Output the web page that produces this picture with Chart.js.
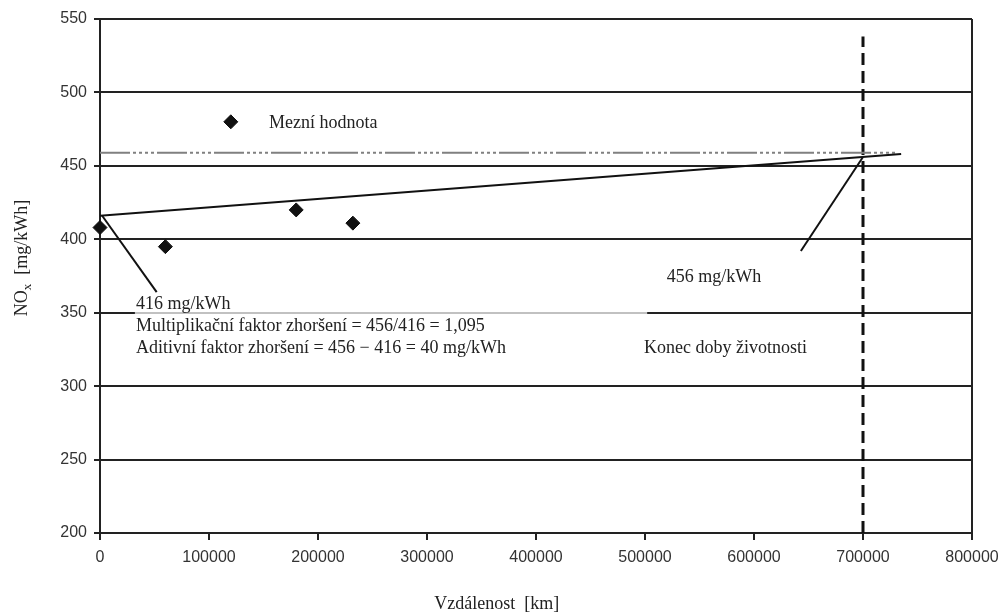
<!DOCTYPE html>
<html>
<head>
<meta charset="utf-8">
<script src="https://cdn.jsdelivr.net/npm/chart.js@4"></script>
<style>
  html, body { margin: 0; padding: 0; background: #fff; }
  #wrap { width: 1001px; height: 613px; position: relative; }
</style>
</head>
<body>
<div id="wrap"><canvas id="chart" width="1001" height="613"></canvas></div>
<script>
// measured values
const distKm = [0, 60000, 180000, 232000];
const noxVals = [408, 395, 420, 411];

// legend marker for limit value
const legendX = [120000];
const legendY = [480];

// deterioration trend line
const trendX = [0, 735000];
const trendY = [416, 458];

// limit value (Mezni hodnota)
const limitX = [0, 730000];
const limitY = [459, 459];

// end of useful life
const eolX = [700000, 700000];
const eolY = [200, 538];

// pointer lines to labels
const ptr1X = [2000, 52000];
const ptr1Y = [416, 364];
const ptr2X = [700000, 643000];
const ptr2Y = [456, 392];

const xTicks = [0, 100000, 200000, 300000, 400000, 500000, 600000, 700000, 800000];
const yTicks = [200, 250, 300, 350, 400, 450, 500, 550];

const toPts = (xs, ys) => xs.map((x, i) => ({ x, y: ys[i] }));

const serif = "'Liberation Serif', 'DejaVu Serif', serif";
const sans = "'Liberation Sans', Arial, sans-serif";

// labels placed at data coordinates
const notes = [
  { text: "Mezní hodnota", x: 155000, y: 476 },
  { text: "416 mg/kWh", x: 33000, y: 352.5 },
  { text: "Multiplikační faktor zhoršení = 456/416 = 1,095", x: 33000, y: 337.5 },
  { text: "Aditivní faktor zhoršení = 456 − 416 = 40 mg/kWh", x: 33000, y: 322.5 },
  { text: "456 mg/kWh", x: 520000, y: 371 },
  { text: "Konec doby životnosti", x: 499000, y: 322.5 }
];

const annotate = {
  id: "annotate",
  beforeDatasetsDraw(chart) {
    const { ctx, scales: { x, y } } = chart;
    // text box in the original lightens the 350 gridline
    ctx.save();
    ctx.fillStyle = "rgba(255,255,255,0.72)";
    const x0 = x.getPixelForValue(32000), x1 = x.getPixelForValue(502000);
    const yy = y.getPixelForValue(350);
    ctx.fillRect(x0, yy - 3, x1 - x0, 6);
    ctx.restore();
  },
  afterDatasetsDraw(chart) {
    const { ctx, scales: { x, y } } = chart;
    ctx.save();
    ctx.fillStyle = "#222";
    ctx.font = "18px " + serif;
    ctx.textBaseline = "alphabetic";
    ctx.textAlign = "left";
    notes.forEach(n => {
      ctx.fillText(n.text, x.getPixelForValue(n.x), y.getPixelForValue(n.y));
    });

    // y title with subscript
    ctx.translate(21, 258);
    ctx.rotate(-Math.PI / 2);
    const a = "NO", b = "x", c = "  [mg/kWh]";
    ctx.font = "18px " + serif;
    const wa = ctx.measureText(a).width;
    const wc = ctx.measureText(c).width;
    ctx.font = "13px " + serif;
    const wb = ctx.measureText(b).width;
    let sx = -(wa + wb + wc) / 2;
    ctx.font = "18px " + serif;
    ctx.fillText(a, sx, 6);
    ctx.fillText(c, sx + wa + wb, 6);
    ctx.font = "13px " + serif;
    ctx.fillText(b, sx + wa, 10);
    ctx.restore();

    // x title
    ctx.save();
    ctx.fillStyle = "#222";
    ctx.font = "18px " + serif;
    ctx.textAlign = "center";
    ctx.fillText("Vzdálenost  [km]", x.getPixelForValue(364000), 609);
    ctx.restore();
  }
};

new Chart(document.getElementById("chart"), {
  type: "scatter",
  data: {
    datasets: [
      {
        label: "měření",
        data: toPts(distKm, noxVals),
        pointStyle: "rectRot",
        pointRadius: 7,
        backgroundColor: "#111",
        borderColor: "#111",
        showLine: false,
        clip: false
      },
      {
        label: "legenda",
        data: toPts(legendX, legendY),
        pointStyle: "rectRot",
        pointRadius: 7,
        backgroundColor: "#111",
        borderColor: "#111",
        showLine: false
      },
      {
        label: "trend",
        data: toPts(trendX, trendY),
        showLine: true,
        borderColor: "#111",
        borderWidth: 2,
        pointRadius: 0
      },
      {
        label: "mez",
        data: toPts(limitX, limitY),
        showLine: true,
        borderColor: "#808080",
        borderWidth: 2,
        borderDash: [30, 3, 3, 3, 3, 3, 3, 3, 3, 3],
        pointRadius: 0
      },
      {
        label: "konec",
        data: toPts(eolX, eolY),
        showLine: true,
        borderColor: "#111",
        borderWidth: 3,
        borderDash: [12, 6],
        pointRadius: 0
      },
      {
        label: "p1",
        data: toPts(ptr1X, ptr1Y),
        showLine: true,
        borderColor: "#111",
        borderWidth: 2,
        pointRadius: 0
      },
      {
        label: "p2",
        data: toPts(ptr2X, ptr2Y),
        showLine: true,
        borderColor: "#111",
        borderWidth: 2,
        pointRadius: 0
      }
    ]
  },
  options: {
    responsive: false,
    animation: false,
    events: [],
    layout: { padding: { top: 19, right: 29, left: 0, bottom: 0 } },
    plugins: { legend: { display: false }, tooltip: { enabled: false } },
    scales: {
      x: {
        type: "linear",
        min: 0,
        max: 800000,
        afterBuildTicks: s => { s.ticks = xTicks.map(v => ({ value: v })); },
        afterFit: s => { s.height = 80; s.paddingLeft = 0; s.paddingRight = 0; },
        grid: {
          color: c => (c.tick && c.tick.value === 800000 ? "#222" : "rgba(0,0,0,0)"),
          tickColor: "#222",
          lineWidth: 2,
          tickLength: 7,
          drawOnChartArea: true
        },
        border: { color: "#222", width: 2 },
        ticks: {
          color: "#333",
          font: { family: sans, size: 16 },
          padding: 8,
          maxRotation: 0,
          autoSkip: false,
          callback: v => String(v)
        }
      },
      y: {
        type: "linear",
        min: 200,
        max: 550,
        afterBuildTicks: s => { s.ticks = yTicks.map(v => ({ value: v })); },
        afterFit: s => { s.width = 100; s.paddingTop = 0; s.paddingBottom = 0; },
        grid: {
          color: "#222",
          lineWidth: 2,
          tickLength: 6
        },
        border: { color: "#222", width: 2 },
        ticks: {
          color: "#333",
          font: { family: sans, size: 16 },
          padding: 7,
          callback: v => String(v)
        }
      }
    }
  },
  plugins: [annotate]
});
</script>
</body>
</html>
